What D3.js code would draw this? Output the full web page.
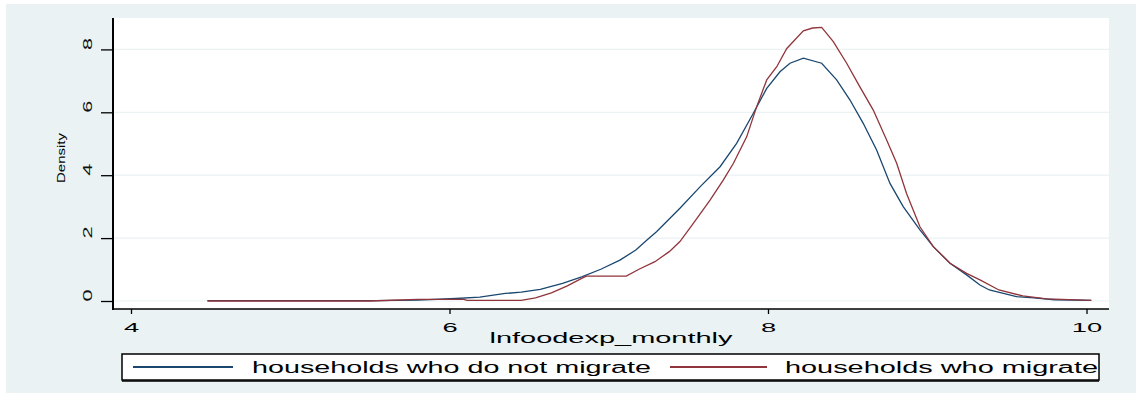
<!DOCTYPE html>
<html>
<head>
<meta charset="utf-8">
<script src="https://cdn.jsdelivr.net/npm/d3@7"></script>
<style>
  body { margin: 0; background: #fff; }
  svg { display: block; font-family: "Liberation Sans", Arial, sans-serif; }
</style>
</head>
<body>
<svg id="chart" width="1136" height="394"></svg>
<script>
// kernel density of lnfoodexp_monthly
const xNoMigrate = [4.48, 5.0, 5.53, 5.8, 6.04, 6.19, 6.35, 6.45, 6.57, 6.71, 6.83, 6.95, 7.07, 7.17, 7.24, 7.30,
    7.447, 7.573, 7.699, 7.803, 7.908, 7.992, 8.075, 8.138, 8.222, 8.337, 8.431, 8.515, 8.598, 8.682, 8.766,
    8.849, 8.954, 9.038, 9.143, 9.247, 9.331, 9.39, 9.56, 9.67, 9.80, 10.03];
const densNoMigrate = [0.01, 0.01, 0.01, 0.03, 0.08, 0.12, 0.24, 0.28, 0.37, 0.56, 0.77, 1.01, 1.30, 1.62, 1.94, 2.20,
    2.95, 3.63, 4.27, 5.01, 5.97, 6.76, 7.29, 7.56, 7.72, 7.56, 7.03, 6.39, 5.65, 4.80, 3.74,
    3.00, 2.26, 1.73, 1.20, 0.83, 0.51, 0.35, 0.14, 0.10, 0.04, 0.02];

const xMigrate = [4.48, 5.5, 5.80, 6.09, 6.11, 6.45, 6.54, 6.64, 6.74, 6.83, 6.86, 7.11, 7.19, 7.29, 7.38,
    7.447, 7.531, 7.636, 7.720, 7.783, 7.866, 7.929, 7.992, 8.055, 8.118, 8.222, 8.28, 8.337, 8.410, 8.494,
    8.577, 8.661, 8.745, 8.808, 8.870, 8.954, 9.038, 9.143, 9.247, 9.331, 9.45, 9.6, 9.75, 10.03];
const densMigrate = [0.0, 0.0, 0.05, 0.05, 0.02, 0.02, 0.1, 0.26, 0.48, 0.72, 0.79, 0.79, 1.01, 1.25, 1.57,
    1.89, 2.47, 3.21, 3.85, 4.38, 5.22, 6.18, 7.03, 7.45, 8.03, 8.59, 8.68, 8.70, 8.25, 7.56,
    6.81, 6.07, 5.12, 4.38, 3.42, 2.36, 1.73, 1.20, 0.88, 0.67, 0.35, 0.16, 0.07, 0.02];

const xTicks = [4, 6, 8, 10];
const yTicks = [0, 2, 4, 6, 8];
const seriesNames = ["households who do not migrate", "households who migrate"];
const seriesColors = ["#1a476f", "#90353b"];

const svg = d3.select("#chart");
const bg = "#eaf2f3";

// outer stata background
svg.append("rect").attr("x", 6).attr("y", 4).attr("width", 1130).attr("height", 389).attr("fill", bg);

const plot = { left: 113, right: 1109, top: 18, bottom: 309 };
svg.append("rect")
    .attr("x", plot.left).attr("y", plot.top)
    .attr("width", plot.right - plot.left).attr("height", plot.bottom - plot.top)
    .attr("fill", "#fff");

const x = d3.scaleLinear().domain([4, 10]).range([131, 1086.5]);
const y = d3.scaleLinear().domain([0, 8]).range([301, 49.4]);

// text in the picture is stretched sideways
function stretch(sel, k) {
    sel.each(function () {
        const w = this.getComputedTextLength();
        d3.select(this).attr("textLength", w * k).attr("lengthAdjust", "spacingAndGlyphs");
    });
}

// grid
svg.append("g").selectAll("line")
    .data(yTicks)
    .enter().append("line")
    .attr("x1", plot.left).attr("x2", plot.right)
    .attr("y1", d => y(d)).attr("y2", d => y(d))
    .attr("stroke", bg).attr("stroke-width", 1.2);

// lines
const series = [
    xNoMigrate.map((v, i) => ({ x: v, y: densNoMigrate[i] })),
    xMigrate.map((v, i) => ({ x: v, y: densMigrate[i] }))
];
const line = d3.line().x(d => x(d.x)).y(d => y(d.y));
series.forEach((s, i) => {
    svg.append("path")
        .datum(s)
        .attr("d", line)
        .attr("fill", "none")
        .attr("stroke", seriesColors[i])
        .attr("stroke-width", 1.3);
});

// y axis
const yAxis = svg.append("g")
    .attr("transform", `translate(${plot.left},0)`)
    .call(d3.axisLeft(y).tickValues(yTicks).tickSize(12).tickFormat(d3.format("d")));
yAxis.select(".domain").remove();
yAxis.selectAll(".tick line").attr("stroke", "#000").attr("stroke-width", 1.3);
yAxis.selectAll(".tick text")
    .attr("x", null).attr("dy", null)
    .attr("transform", "translate(-21,0) rotate(-90)")
    .attr("text-anchor", "start")
    .attr("font-size", 12)
    .attr("fill", "#111")
    .attr("font-family", "Liberation Sans, Arial, sans-serif");
stretch(yAxis.selectAll(".tick text"), 1.8);
svg.append("line")
    .attr("x1", plot.left).attr("x2", plot.left)
    .attr("y1", plot.top).attr("y2", plot.bottom + 1)
    .attr("stroke", "#000").attr("stroke-width", 2);

// x axis
const xAxis = svg.append("g")
    .attr("transform", `translate(0,${plot.bottom})`)
    .call(d3.axisBottom(x).tickValues(xTicks).tickSize(5).tickFormat(d3.format("d")));
xAxis.select(".domain").remove();
xAxis.selectAll(".tick line").attr("stroke", "#000").attr("stroke-width", 1.3);
xAxis.selectAll(".tick text")
    .attr("y", 23).attr("dy", null)
    .attr("font-size", 13)
    .attr("fill", "#000")
    .attr("font-family", "Liberation Sans, Arial, sans-serif");
stretch(xAxis.selectAll(".tick text"), 2.1);
svg.append("line")
    .attr("x1", plot.left).attr("x2", plot.right)
    .attr("y1", plot.bottom).attr("y2", plot.bottom)
    .attr("stroke", "#000").attr("stroke-width", 1.6);

// axis titles
svg.append("text")
    .attr("x", 611).attr("y", 342.5)
    .attr("text-anchor", "middle")
    .attr("font-size", 15)
    .attr("textLength", 243).attr("lengthAdjust", "spacingAndGlyphs")
    .text("lnfoodexp_monthly");

svg.append("text")
    .attr("transform", "translate(65,158) rotate(-90)")
    .attr("text-anchor", "middle")
    .attr("font-size", 11)
    .attr("textLength", 50).attr("lengthAdjust", "spacingAndGlyphs")
    .text("Density");

// legend
const legend = svg.append("g");
legend.append("rect")
    .attr("x", 122).attr("y", 354).attr("width", 977).attr("height", 26)
    .attr("fill", "#fff").attr("stroke", "#000").attr("stroke-width", 1.5);
legend.append("line")
    .attr("x1", 122).attr("x2", 1099).attr("y1", 381).attr("y2", 381)
    .attr("stroke", "#000").attr("stroke-width", 1.5);

const legendItems = [
    { x1: 133, x2: 233, tx: 252, tw: 399 },
    { x1: 670, x2: 767, tx: 785, tw: 313 }
];
legendItems.forEach((d, i) => {
    legend.append("line")
        .attr("x1", d.x1).attr("x2", d.x2).attr("y1", 367).attr("y2", 367)
        .attr("stroke", seriesColors[i]).attr("stroke-width", 2);
    legend.append("text")
        .attr("x", d.tx).attr("y", 373)
        .attr("font-size", 16)
        .attr("textLength", d.tw).attr("lengthAdjust", "spacingAndGlyphs")
        .text(seriesNames[i]);
});
</script>
</body>
</html>
